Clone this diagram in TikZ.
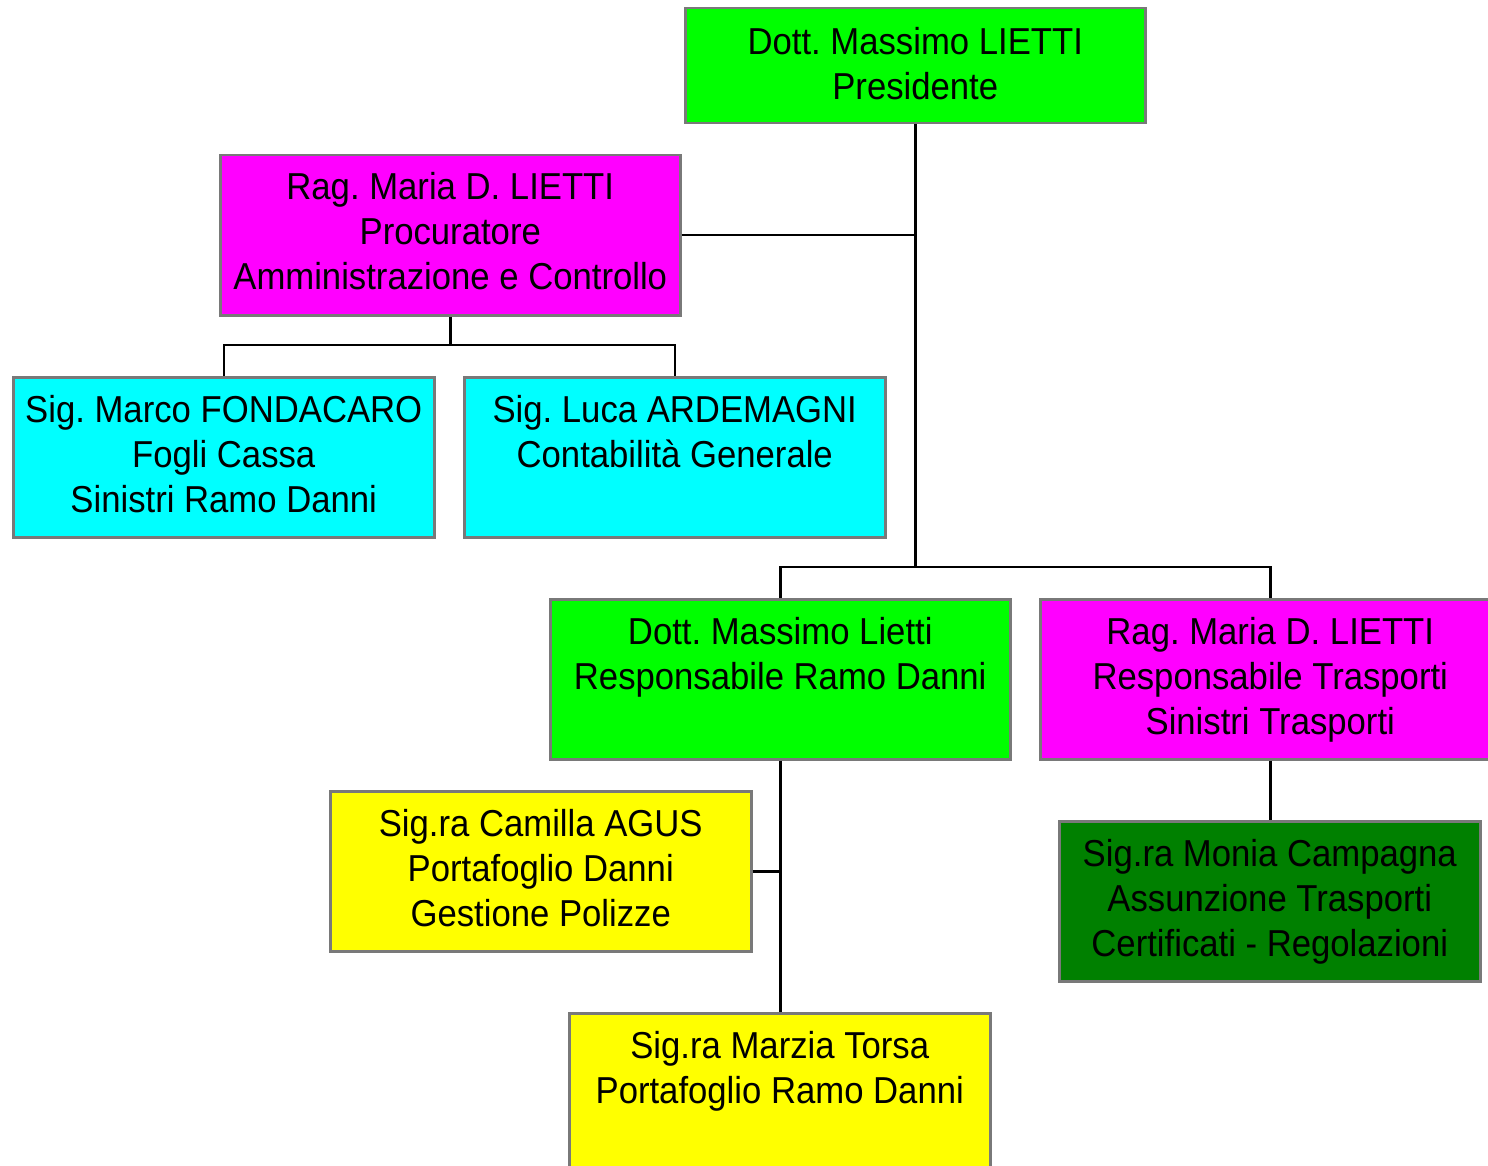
\documentclass[tikz,border=0pt]{standalone}
\usepackage{fontspec}
\setmainfont{Liberation Sans}[FakeStretch=0.925]
\frenchspacing
\begin{document}
\begin{tikzpicture}[x=1pt,y=-1pt,
  box/.style={draw=gray!95!black, line width=2.5pt, rectangle, inner sep=0pt, anchor=north west, minimum height=160pt, minimum width=421pt},
  wide/.style={minimum width=460pt},
  txt/.style={anchor=base, inner sep=0pt, font=\fontsize{37.5}{45}\selectfont\frenchspacing},
  conn/.style={draw=black, line width=2.5pt}]
\definecolor{cgreen}{RGB}{0,255,0}
\definecolor{cmag}{RGB}{255,0,255}
\definecolor{ccyan}{RGB}{0,255,255}
\definecolor{cyel}{RGB}{255,255,0}
\definecolor{cdark}{RGB}{0,128,0}
\useasboundingbox (0,0) rectangle (1488,1166);
% boxes
\node[box, wide, fill=cgreen, minimum height=115pt] (pres) at (684,7) {};
\node[box, wide, fill=cmag] (proc) at (219,154) {};
\node[box, fill=ccyan] (fond) at (12,376) {};
\node[box, fill=ccyan] (arde) at (463,376) {};
\node[box, wide, fill=cgreen] (resp) at (549,598) {};
\node[box, wide, fill=cmag] (trasp) at (1039,598) {};
\node[box, fill=cyel] (cam) at (329,790) {};
\node[box, fill=cdark] (monia) at (1058,820) {};
\node[box, fill=cyel, minimum height=175pt] (marz) at (568,1012) {};
% texts
\node[txt] (tpres) at ([yshift=-48pt]pres.north) {\begin{tabular}[t]{@{}c@{}}Dott. Massimo LIETTI\\Presidente\end{tabular}};
\node[txt] (tproc) at ([yshift=-46pt]proc.north) {\begin{tabular}[t]{@{}c@{}}Rag. Maria D. LIETTI\\Procuratore\\Amministrazione e Controllo\end{tabular}};
\node[txt] (tfond) at ([yshift=-46pt]fond.north) {\begin{tabular}[t]{@{}c@{}}Sig. Marco FONDACARO\\Fogli Cassa\\Sinistri Ramo Danni\end{tabular}};
\node[txt] (tarde) at ([yshift=-46pt]arde.north) {\begin{tabular}[t]{@{}c@{}}Sig. Luca ARDEMAGNI\\Contabilità Generale\end{tabular}};
\node[txt] (tresp) at ([yshift=-46pt]resp.north) {\begin{tabular}[t]{@{}c@{}}Dott. Massimo Lietti\\Responsabile Ramo Danni\end{tabular}};
\node[txt] (ttrasp) at ([yshift=-46pt]trasp.north) {\begin{tabular}[t]{@{}c@{}}Rag. Maria D. LIETTI\\Responsabile Trasporti\\Sinistri Trasporti\end{tabular}};
\node[txt] (tcam) at ([yshift=-46pt]cam.north) {\begin{tabular}[t]{@{}c@{}}Sig.ra Camilla AGUS\\Portafoglio Danni\\Gestione Polizze\end{tabular}};
\node[txt] (tmonia) at ([yshift=-46pt]monia.north) {\begin{tabular}[t]{@{}c@{}}Sig.ra Monia Campagna\\Assunzione Trasporti\\Certificati - Regolazioni\end{tabular}};
\node[txt] (tmarz) at ([yshift=-46pt]marz.north) {\begin{tabular}[t]{@{}c@{}}Sig.ra Marzia Torsa\\Portafoglio Ramo Danni\end{tabular}};
% connectors
\coordinate (bus) at (pres.south |- 0,567);
\coordinate (bus2) at (proc.south |- 0,345);
\draw[conn] (pres.south) -- (bus);
\draw[conn] (proc.east) -- (proc.east -| pres.south);
\draw[conn] (resp.north) |- (bus) -| (trasp.north);
\draw[conn] (proc.south) -- (bus2);
\draw[conn] (fond.north) |- (bus2) -| (arde.north);
\draw[conn] (resp.south) -- (resp.south |- marz.north);
\draw[conn] (cam.east) -- (cam.east -| resp.south);
\draw[conn] (trasp.south) -- (trasp.south |- monia.north);
\end{tikzpicture}
\end{document}
